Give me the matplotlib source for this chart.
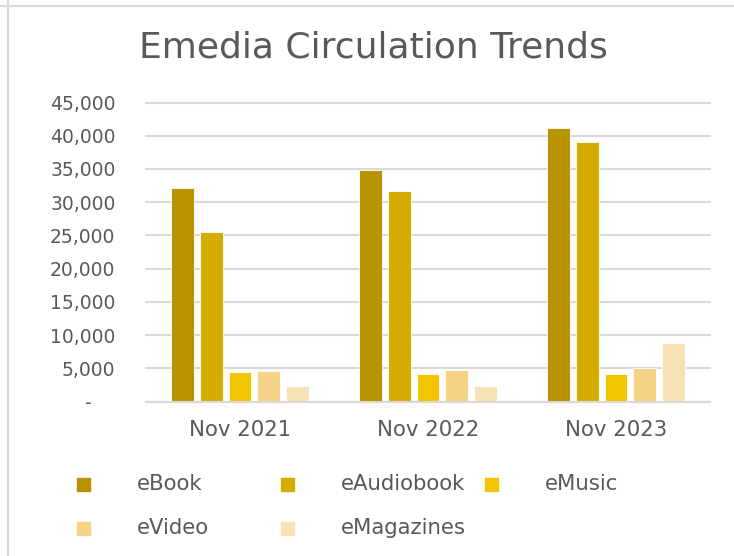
import matplotlib
matplotlib.use("Agg")
import matplotlib.pyplot as plt
from matplotlib.lines import Line2D
from matplotlib.patches import Rectangle
from matplotlib.ticker import FuncFormatter
import numpy as np

# data
periods = ["Nov 2021", "Nov 2022", "Nov 2023"]
series = ["eBook", "eAudiobook", "eMusic", "eVideo", "eMagazines"]
ebook = [32100, 34900, 41200]
eaudiobook = [25500, 31700, 39000]
emusic = [4470, 4200, 4170]
evideo = [4680, 4770, 5070]
emagazines = [2320, 2360, 8830]
yticks = [0, 5000, 10000, 15000, 20000, 25000, 30000, 35000, 40000, 45000]

colors = ["#B89500", "#D4AC00", "#F2C500", "#F4D286", "#F8E1B4"]
txt = "#595959"
grid = "#D9D9D9"

W, H = 734, 556
dpi = 100
fig = plt.figure(figsize=(W / dpi, H / dpi), dpi=dpi)
fig.patch.set_facecolor("white")

def fx(px): return px / W
def fy(py): return 1 - py / H

# plot area in pixels
left_px, right_px, top_px, bot_px = 146, 710, 102.5, 401.7
ax = fig.add_axes([fx(left_px), fy(bot_px), fx(right_px - left_px), (bot_px - top_px) / H])

values = [ebook, eaudiobook, emusic, evideo, emagazines]
x = np.arange(len(periods))
stride = 0.153
width = 0.12
for i, (name, vals) in enumerate(zip(series, values)):
    ax.bar(x + (i - 2) * stride, vals, width, color=colors[i],
           edgecolor="white", linewidth=0.6, zorder=3, label=name)

ax.set_xlim(-0.5, 2.5)
ax.set_ylim(0, 45000)
ax.set_yticks(yticks)
ax.yaxis.set_major_formatter(FuncFormatter(lambda v, p: "-    " if v == 0 else f"{v:,.0f}"))
ax.set_xticks(x)
ax.set_xticklabels(periods)
ax.tick_params(axis="y", length=0, pad=22, labelsize=13.5, labelcolor=txt)
ax.tick_params(axis="x", length=0, pad=13, labelsize=15.3, labelcolor=txt)
ax.grid(axis="y", color=grid, linewidth=1.5, zorder=0)
for gl in ax.get_ygridlines():
    gl.set_clip_on(False)
for s in ["top", "right", "left"]:
    ax.spines[s].set_visible(False)
ax.spines["bottom"].set_color(grid)
ax.spines["bottom"].set_linewidth(1.5)
ax.spines["bottom"].set_zorder(4)

# title
fig.text(fx(373), fy(47), "Emedia Circulation Trends", ha="center", va="center",
         fontsize=26, color=txt)

# legend with fixed column slots like the spreadsheet layout
for i, name in enumerate(series):
    row, col = divmod(i, 3)
    mx = 77 + col * 204
    my = 484.5 + row * 44
    fig.patches.append(Rectangle((fx(mx), fy(my + 6.5)), fx(13), 13 / H,
                                 transform=fig.transFigure, color=colors[i]))
    fig.text(fx(mx + 60), fy(my), name, ha="left", va="center",
             fontsize=15.3, color=txt)

# outer border lines of the chart frame
fig.add_artist(Line2D([0, 1], [fy(5.5), fy(5.5)], color=grid, linewidth=1.5))
fig.add_artist(Line2D([fx(7.5), fx(7.5)], [1, 0], color=grid, linewidth=1.5))

fig.savefig("out.png", dpi=dpi)
